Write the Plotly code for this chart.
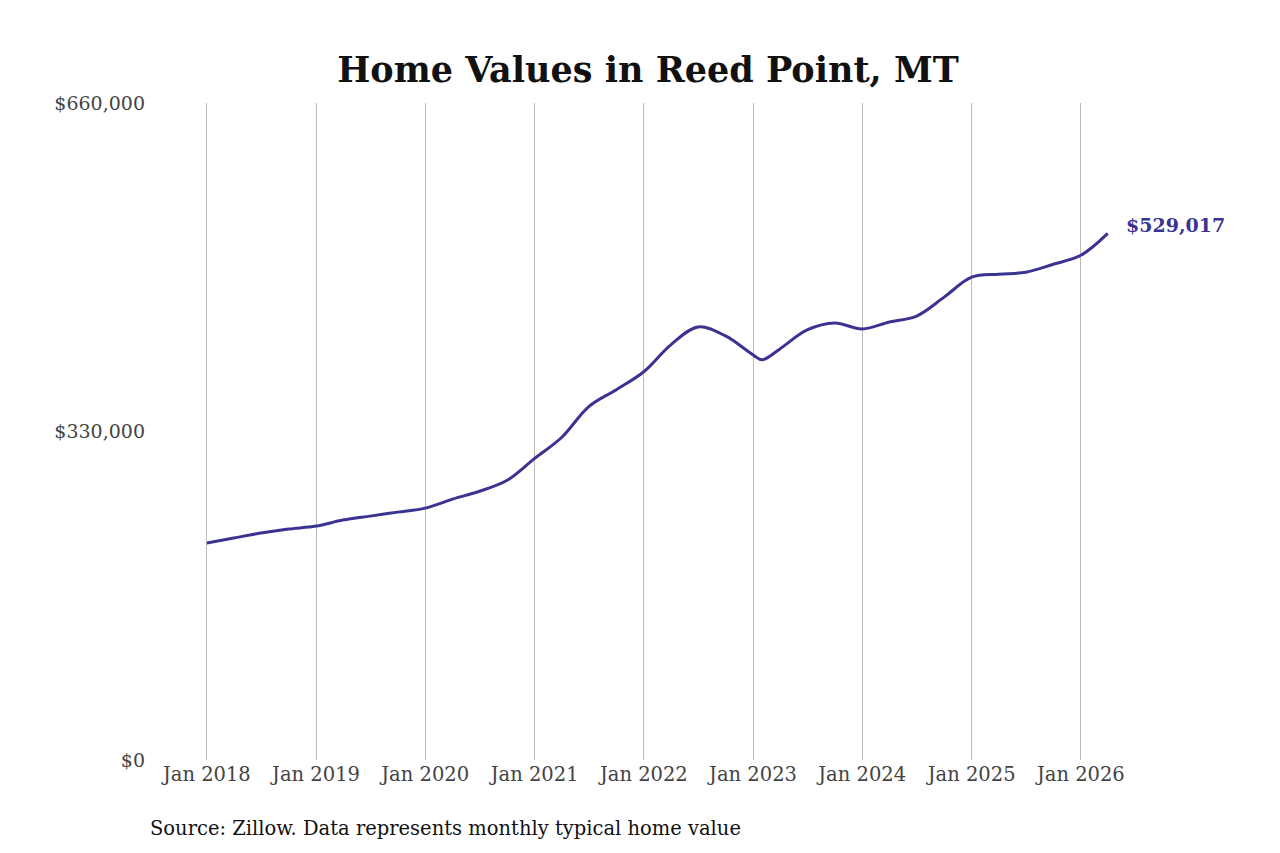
import plotly.graph_objects as go

dates = ["2018-01-01", "2018-04-01", "2018-07-01", "2018-10-01",
         "2019-01-01", "2019-04-01", "2019-07-01", "2019-10-01",
         "2020-01-01", "2020-04-01", "2020-07-01", "2020-10-01",
         "2021-01-01", "2021-04-01", "2021-07-01", "2021-10-01",
         "2022-01-01", "2022-04-01", "2022-07-01", "2022-10-01",
         "2023-01-01", "2023-02-01", "2023-04-01", "2023-07-01", "2023-10-01",
         "2024-01-01", "2024-04-01", "2024-07-01", "2024-10-01",
         "2025-01-01", "2025-04-01", "2025-07-01", "2025-10-01",
         "2026-01-01", "2026-04-01"]
values = [218000, 223000, 228000, 232000,
          235000, 241000, 245000, 249000,
          253000, 262000, 270000, 281000,
          303000, 324000, 355000, 372000,
          390000, 417000, 435000, 426000,
          407000, 402000, 413000, 432000, 439000,
          433000, 440000, 446000, 465000,
          485000, 488000, 490000, 498000,
          507000, 529017]

tick_vals = ["2018-01-01", "2019-01-01", "2020-01-01", "2021-01-01", "2022-01-01",
             "2023-01-01", "2024-01-01", "2025-01-01", "2026-01-01"]
tick_text = ["Jan 2018", "Jan 2019", "Jan 2020", "Jan 2021", "Jan 2022",
             "Jan 2023", "Jan 2024", "Jan 2025", "Jan 2026"]

color = "#3b3391"
font = "DejaVu Serif"

fig = go.Figure()
fig.add_trace(go.Scatter(x=dates, y=values, mode="lines",
                         line=dict(color=color, width=3, shape="spline"),
                         hoverinfo="skip"))

fig.add_annotation(x=dates[-1], y=values[-1], text="<b>$529,017</b>", showarrow=False,
                   xanchor="left", xshift=16, yshift=8,
                   font=dict(family=font, size=19, color=color))
fig.add_annotation(x=0, y=0, xref="paper", yref="paper", xshift=-8, yshift=-68,
                   text="Source: Zillow. Data represents monthly typical home value",
                   showarrow=False, xanchor="left", yanchor="middle",
                   font=dict(family=font, size=19.5, color="#111"))

fig.update_layout(
    width=1280, height=853,
    paper_bgcolor="white", plot_bgcolor="white",
    margin=dict(l=148, r=162, t=95, b=101),
    showlegend=False,
    title=dict(text="<b>Home Values in Reed Point, MT</b>", x=0.5, xanchor="center",
               y=0.928, yanchor="middle", font=dict(family=font, size=35, color="#111")),
    font=dict(family=font, size=19, color="#444"),
    xaxis=dict(range=["2017-07-15", "2026-06-01"], tickvals=tick_vals, ticktext=tick_text,
               showgrid=True, gridcolor="#bbbbbb", gridwidth=1, zeroline=False,
               showline=False, ticks="", tickfont=dict(size=19.5)),
    yaxis=dict(range=[0, 660000], tickvals=[0, 330000, 660000],
               ticktext=["$0", "$330,000", "$660,000"], showgrid=False,
               zeroline=False, showline=False, ticks="", ticklabelstandoff=10,
               tickfont=dict(size=19)),
)

fig.write_html("out.html")
